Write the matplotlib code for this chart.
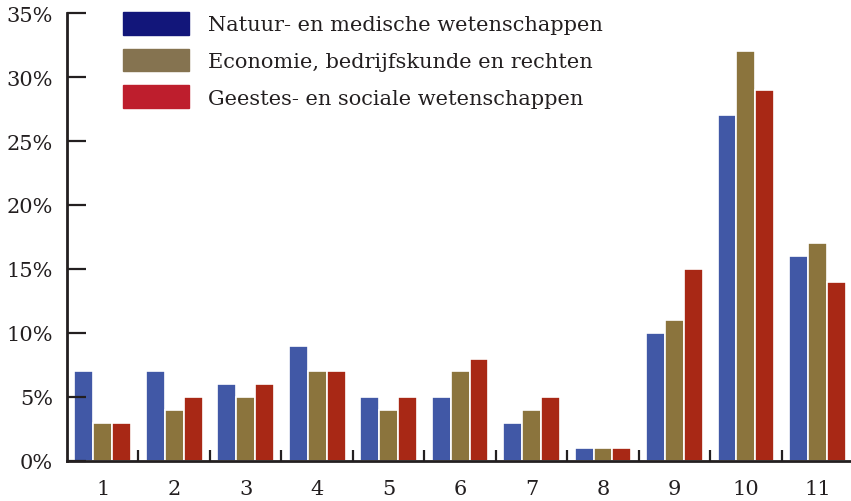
import numpy as np
import matplotlib
matplotlib.use('Agg')
import matplotlib.pyplot as plt
import matplotlib.patches as mpatches

groups = ['1', '2', '3', '4', '5', '6', '7', '8', '9', '10', '11']
natuur = [7, 7, 6, 9, 5, 5, 3, 1, 10, 27, 16]
economie = [3, 4, 5, 7, 4, 7, 4, 1, 11, 32, 17]
geestes = [3, 5, 6, 7, 5, 8, 5, 1, 15, 29, 14]
labels = ['Natuur- en medische wetenschappen',
          'Economie, bedrijfskunde en rechten',
          'Geestes- en sociale wetenschappen']

bar_colors = ['#4158A6', '#8B743D', '#A82815']
legend_colors = ['#12167A', '#857350', '#BE1E2D']
ink = '#231F20'

plt.rcParams['font.family'] = ['DejaVu Serif']

fig = plt.figure(figsize=(8.51, 5.02), dpi=100)
ax = fig.add_axes([0.0787, 0.0797, 0.9213, 0.8924])

x = np.arange(1, len(groups) + 1)
pitch = 0.265
for i, (vals, c) in enumerate(zip([natuur, economie, geestes], bar_colors)):
    ax.bar(x + (i - 1) * pitch, vals, width=pitch, color=c,
           edgecolor='white', linewidth=1.2)

ax.set_xlim(0.5, 11.47)
ax.set_ylim(0, 35)

for s in ['top', 'right']:
    ax.spines[s].set_visible(False)
for s in ['left', 'bottom']:
    ax.spines[s].set_color(ink)
    ax.spines[s].set_linewidth(2)

ax.set_yticks(np.arange(0, 36, 5))
ax.set_yticklabels([f'{v}%' for v in range(0, 36, 5)])
ax.tick_params(axis='y', direction='in', length=14, width=1.6, color=ink,
               labelsize=15, labelcolor=ink, pad=10)

ax.set_xticks(np.arange(1.5, 11, 1))
ax.set_xticklabels([])
ax.tick_params(axis='x', which='major', direction='in', length=8, width=1.6, color=ink)
ax.set_xticks(x, minor=True)
ax.set_xticklabels(groups, minor=True)
ax.tick_params(axis='x', which='minor', length=0, labelsize=15, labelcolor=ink, pad=13)

handles = [mpatches.Patch(color=c, label=l) for c, l in zip(legend_colors, labels)]
ax.legend(handles=handles, loc='upper left', bbox_to_anchor=(0.1445, 0.974),
          bbox_transform=fig.transFigure, borderaxespad=0, borderpad=0,
          frameon=False, fontsize=15, handlelength=3.17, handleheight=1.3,
          handletextpad=0.9, labelspacing=0.67, labelcolor=ink)

fig.savefig('out.png', dpi=100)
